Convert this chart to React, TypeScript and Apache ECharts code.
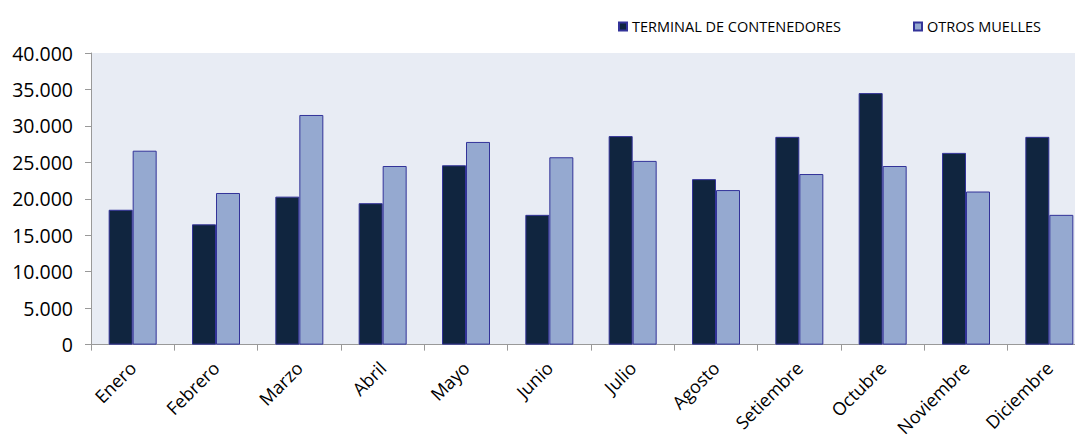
import React, { useEffect, useRef } from "react";
import * as echarts from "echarts";

const months = ["Enero", "Febrero", "Marzo", "Abril", "Mayo", "Junio", "Julio", "Agosto", "Setiembre", "Octubre", "Noviembre", "Diciembre"];
const terminal = [18500, 16500, 20300, 19400, 24600, 17800, 28600, 22700, 28500, 34500, 26300, 28500];
const otros = [26600, 20800, 31500, 24500, 27800, 25700, 25200, 21200, 23400, 24500, 21000, 17800];
const seriesNames = ["TERMINAL DE CONTENEDORES", "OTROS MUELLES"];

const fmt = (v: number) => (v === 0 ? "0" : v.toLocaleString("de-DE"));

export default function App() {
  const ref = useRef<HTMLDivElement>(null);
  useEffect(() => {
    document.body.style.margin = "0";
    document.body.style.overflow = "hidden";
    const chart = echarts.init(ref.current!, null, { renderer: "svg" });
    const axisFont = "Open Sans";
    const legendText = { fontFamily: "Open Sans", fontSize: 14.5, color: "#000" };
    chart.setOption({
      animation: false,
      legend: [
        {
          data: [seriesNames[0]],
          left: 613,
          top: 14,
          itemWidth: 8,
          itemHeight: 8,
          itemGap: 4,
          icon: "rect",
          textStyle: legendText,
        },
        {
          data: [seriesNames[1]],
          left: 908,
          top: 14,
          itemWidth: 8,
          itemHeight: 8,
          icon: "rect",
          textStyle: legendText,
        },
      ],
      grid: {
        left: 91,
        right: 0,
        top: 53,
        bottom: 94,
        show: true,
        backgroundColor: "#E8ECF4",
        borderWidth: 0,
      },
      xAxis: {
        type: "category",
        data: months,
        axisLine: { show: true, lineStyle: { color: "#999", width: 1 } },
        axisTick: { show: true, length: 6, lineStyle: { color: "#999" } },
        axisLabel: { rotate: 45, fontFamily: axisFont, fontSize: 18, color: "#000", margin: 20 },
      },
      yAxis: {
        type: "value",
        min: 0,
        max: 40000,
        interval: 5000,
        axisLine: { show: true, lineStyle: { color: "#999", width: 1 } },
        axisTick: { show: true, length: 6, lineStyle: { color: "#999" } },
        splitLine: { show: false },
        axisLabel: { fontFamily: axisFont, fontSize: 19.5, color: "#000", margin: 18, formatter: fmt },
      },
      series: [
        {
          name: seriesNames[0],
          type: "bar",
          data: terminal,
          barWidth: 24,
          barGap: "0%",
          itemStyle: { color: "#10253F", borderColor: "#333399", borderWidth: 1 },
        },
        {
          name: seriesNames[1],
          type: "bar",
          data: otros,
          barWidth: 24,
          barGap: "0%",
          itemStyle: { color: "#95A9D0", borderColor: "#333399", borderWidth: 1 },
        },
      ],
    });
    return () => chart.dispose();
  }, []);
  return (
    <div style={{ width: 1075, height: 439, overflow: "hidden" }}>
      <div ref={ref} style={{ width: 1091, height: 439 }} />
    </div>
  );
}
